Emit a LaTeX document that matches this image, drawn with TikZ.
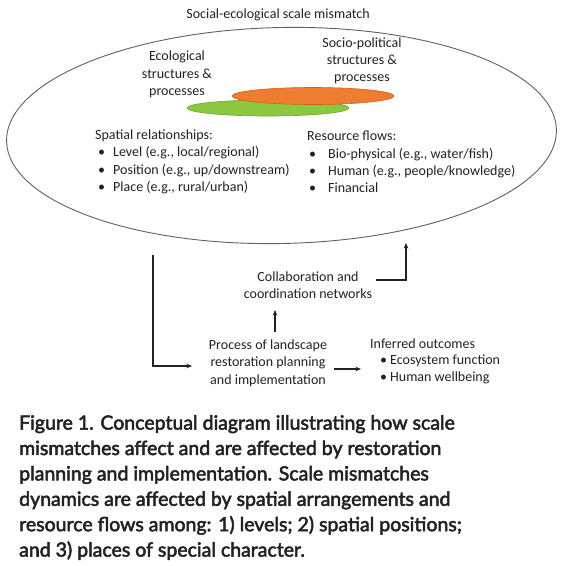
\documentclass[tikz,border=0pt]{standalone}
\usepackage{fontspec}
\setmainfont{Carlito}
\newfontfamily\capfont{Lato}[FakeBold=2.6]
\usetikzlibrary{shapes.geometric,arrows.meta}
\definecolor{ink}{HTML}{222222}
\definecolor{rim}{HTML}{606060}
\definecolor{orfill}{HTML}{EE7D31}
\definecolor{ordraw}{HTML}{C8641E}
\definecolor{grfill}{HTML}{8DC63F}
\definecolor{grdraw}{HTML}{6FA32E}
\begin{document}
\begin{tikzpicture}[x=1pt,y=-1pt,
  font=\fontsize{14}{17.3}\selectfont,
  txt/.style={text=ink, inner sep=0pt, align=center},
  lst/.style={text=ink, inner sep=0pt, align=left, anchor=north west, font=\fontsize{14}{17.3}\selectfont},
  conn/.style={draw=ink, line width=1.1pt, -{Stealth[length=5.5pt,width=4.5pt]}},
  blob/.style={ellipse, inner sep=0pt, line width=0.6pt}]
\useasboundingbox (0,0) rectangle (564,566);
\fill[white] (0,0) rectangle (564,566);

\node[txt] (title) at (278,14.5) {Social-ecological scale mismatch};
\node[ellipse, draw=rim, line width=0.9pt, minimum width=550pt, minimum height=216pt, inner sep=0pt, rotate=1.2] (scope) at (281.5,135.5) {};

\node[blob, fill=grfill, draw=grdraw, minimum width=162pt, minimum height=16pt] (eco) at (268,108) {};
\node[blob, fill=orfill, draw=ordraw, minimum width=162pt, minimum height=17pt] (soc) at (313,96) {};

\node[txt, font=\fontsize{14}{17.5}\selectfont] (ecot) at (177,74.5) {Ecological\\structures \&\\processes};
\node[txt, font=\fontsize{14}{17}\selectfont] (soct) at (362,61) {Socio-political\\structures \&\\processes};

\node[lst] (spat) at (95,129.5) {Spatial relationships:\\
\hspace*{3pt}\makebox[15pt][l]{\textbullet}Level (e.g., local/regional)\\
\hspace*{3pt}\makebox[15pt][l]{\textbullet}Position (e.g., up/downstream)\\
\hspace*{3pt}\makebox[15pt][l]{\textbullet}Place (e.g., rural/urban)};

\node[lst] (flow) at (307,131) {Resource flows:\\
\hspace*{2pt}\makebox[19pt][l]{\textbullet}Bio-physical (e.g., water/fish)\\
\hspace*{2pt}\makebox[19pt][l]{\textbullet}Human (e.g., people/knowledge)\\
\hspace*{2pt}\makebox[19pt][l]{\textbullet}Financial};

\node[txt] (collab) at (308,285.5) {Collaboration and\\coordination networks};
\node[txt] (proc) at (268,363) {Process of landscape\\restoration planning\\and implementation};
\node[lst, font=\fontsize{14}{16.5}\selectfont] (outc) at (370,338.5) {Inferred outcomes\\
\hspace*{10pt}\makebox[10pt][l]{\textbullet}Ecosystem function\\
\hspace*{10pt}\makebox[10pt][l]{\textbullet}Human wellbeing};

\coordinate (lstart) at (153,255);
\coordinate (ltip) at (192,366);
\coordinate (upbase) at (275,332);
\coordinate (uptip) at (275,310);
\coordinate (rbase) at (334,369);
\coordinate (rtip) at (361,369);
\coordinate (cbase) at (376,280);
\coordinate (ctip) at (406,243);

\draw[conn] (lstart) |- (ltip);
\draw[conn] (upbase) -- (uptip);
\draw[conn] (rbase) -- (rtip);
\draw[conn] (cbase) -| (ctip);

\node[text=ink, inner sep=0pt, anchor=north west, align=left,
  font=\capfont\fontsize{19.5}{25.4}\selectfont] (cap) at (19,415)
  {Figure 1. Conceptual diagram illustrating how scale\\
   mismatches affect and are affected by restoration\\
   planning and implementation. Scale mismatches\\
   dynamics are affected by spatial arrangements and\\
   resource flows among: 1) levels; 2) spatial positions;\\
   and 3) places of special character.};
\end{tikzpicture}
\end{document}
